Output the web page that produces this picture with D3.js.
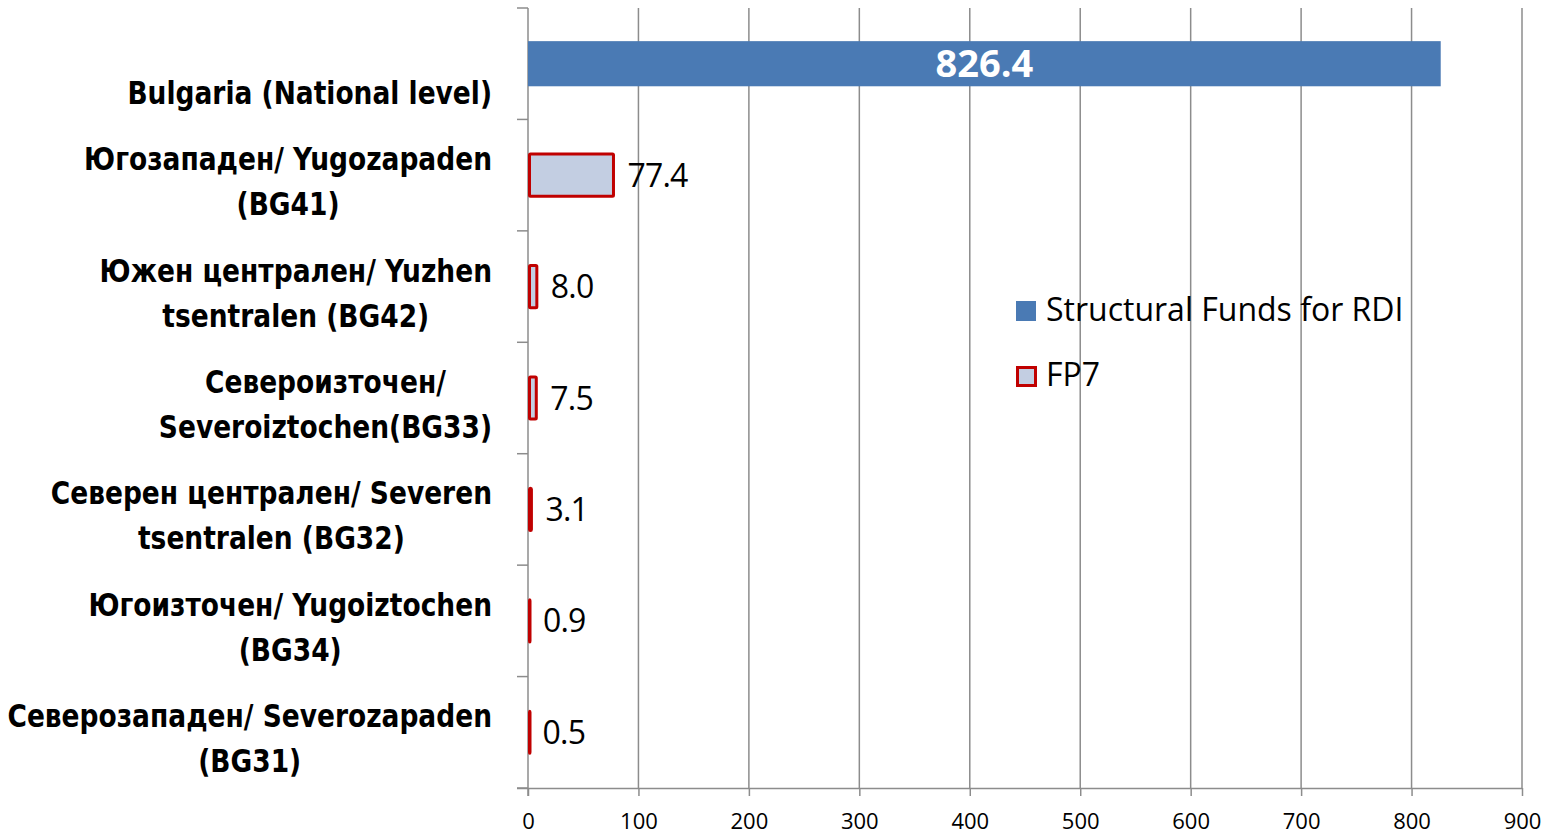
<!DOCTYPE html>
<html><head><meta charset="utf-8">
<script src="https://cdn.jsdelivr.net/npm/d3@7"></script>
<style>html,body{margin:0;padding:0;background:#fff;} svg{display:block;}</style>
</head><body>
<svg id="chart" width="1548" height="835"></svg>
<script>
const categories = ["BG", "BG41", "BG42", "BG33", "BG32", "BG34", "BG31"];
const categoryLines = [
  ["", "Bulgaria (National level)"],
  ["Югозападен/ Yugozapaden", "(BG41)"],
  ["Южен централен/ Yuzhen", "tsentralen (BG42)"],
  ["Североизточен/", "Severoiztochen(BG33)"],
  ["Северен централен/ Severen", "tsentralen (BG32)"],
  ["Югоизточен/ Yugoiztochen", "(BG34)"],
  ["Северозападен/ Severozapaden", "(BG31)"]
];
const structuralFunds = [826.4, null, null, null, null, null, null];
const fp7 = [null, 77.4, 8.0, 7.5, 3.1, 0.9, 0.5];
const xTicks = [0, 100, 200, 300, 400, 500, 600, 700, 800, 900];
const seriesNames = ["Structural Funds for RDI", "FP7"];

(function () {
const svg = d3.select("#chart");
const pLeft = 528, pRight = 1522, pTop = 8, pBottom = 788;
const x = d3.scaleLinear().domain([0, 900]).range([pLeft, pRight]);
const y = d3.scaleBand().domain(categories).range([pTop, pBottom]).padding(0);
const barH = y.bandwidth() * 0.405;
const gridColor = "#8c8c8c";

// gridlines
svg.append("g").selectAll("line").data(xTicks.filter(d => d > 0)).join("line")
  .attr("x1", d => x(d)).attr("x2", d => x(d))
  .attr("y1", pTop).attr("y2", pBottom)
  .attr("stroke", gridColor).attr("stroke-width", 1.5);

// x axis
const xAxis = d3.axisBottom(x).tickValues(xTicks).tickSize(8).tickPadding(0).tickFormat(d3.format("d"));
const gx = svg.append("g").attr("transform", `translate(0,${pBottom})`).call(xAxis);
gx.select(".domain").attr("stroke", gridColor).attr("stroke-width", 1.5).attr("d", `M${pLeft - 11},0.5H${pRight}`);
gx.selectAll(".tick line").attr("stroke", gridColor).attr("stroke-width", 1.5);
gx.selectAll(".tick text").attr("font-family", "'Open Sans', sans-serif").attr("font-size", 22)
  .attr("fill", "#000").attr("y", 41).attr("dy", null);

// y axis with boundary ticks
const boundaries = categories.map(c => y(c)).concat([pBottom]);
svg.append("line").attr("x1", pLeft).attr("x2", pLeft).attr("y1", pTop).attr("y2", pBottom + 8)
  .attr("stroke", gridColor).attr("stroke-width", 1.5);
svg.append("g").selectAll("line").data(boundaries).join("line")
  .attr("x1", pLeft - 11).attr("x2", pLeft).attr("y1", d => d).attr("y2", d => d)
  .attr("stroke", gridColor).attr("stroke-width", 1.5);

// Structural funds bars
const sfData = categories.map((c, i) => ({c, v: structuralFunds[i]})).filter(d => d.v != null);
svg.append("g").selectAll("rect").data(sfData).join("rect")
  .attr("x", x(0)).attr("y", d => y(d.c) + (y.bandwidth() - barH) / 2)
  .attr("width", d => x(d.v) - x(0)).attr("height", barH)
  .attr("fill", "#4a7ab4");
svg.append("g").selectAll("text").data(sfData).join("text")
  .attr("x", d => (x(0) + x(d.v)) / 2).attr("y", d => y(d.c) + y.bandwidth() / 2)
  .attr("dy", "0.36em").attr("text-anchor", "middle")
  .attr("font-family", "'Open Sans', sans-serif").attr("font-weight", "bold").attr("font-size", 38)
  .attr("fill", "#fff").text(d => d.v.toFixed(1));

// FP7 bars
const fpData = categories.map((c, i) => ({c, v: fp7[i]})).filter(d => d.v != null);
svg.append("g").selectAll("rect").data(fpData).join("rect")
  .attr("x", x(0) + 1.5).attr("y", d => y(d.c) + (y.bandwidth() - barH) / 2 + 1.5)
  .attr("width", d => Math.max(x(d.v) - x(0) - 1.5, 0.5)).attr("height", barH - 3)
  .attr("fill", "#c3cee2").attr("stroke", "#c00000").attr("stroke-width", 3).attr("rx", 1);
svg.append("g").selectAll("text").data(fpData).join("text")
  .attr("x", d => x(d.v) + 14).attr("y", d => y(d.c) + y.bandwidth() / 2)
  .attr("dy", "0.36em")
  .attr("font-family", "'Open Sans', sans-serif").attr("font-size", 32).attr("letter-spacing", -0.8)
  .attr("fill", "#000").text(d => d.v.toFixed(1));

// category labels (bold, horizontally condensed)
const labelRight = 492;
const squeeze = 0.92;
categories.forEach((c, i) => {
  const cy = y(c) + y.bandwidth() / 2;
  const g = svg.append("g").attr("transform", `translate(${labelRight},0) scale(${squeeze},1)`);
  const lines = categoryLines[i];
  const texts = lines.map((ln, j) => g.append("text")
    .attr("y", cy + (j === 0 ? -5 : 40))
    .attr("font-family", "'DejaVu Sans Condensed', 'DejaVu Sans', sans-serif")
    .attr("font-stretch", "condensed")
    .attr("font-weight", "bold").attr("font-size", 32).attr("fill", "#000")
    .attr("text-anchor", "middle").text(ln));
  const maxW = d3.max(texts, t => t.node().getComputedTextLength());
  texts.forEach(t => t.attr("x", -maxW / 2));
});

// legend
const legend = svg.append("g");
legend.append("rect").attr("x", 1016).attr("y", 301).attr("width", 20).attr("height", 20).attr("fill", "#4a7ab4");
legend.append("rect").attr("x", 1017.5).attr("y", 367.5).attr("width", 18).attr("height", 18)
  .attr("fill", "#c3cee2").attr("stroke", "#c00000").attr("stroke-width", 3);
legend.append("text").attr("x", 1046).attr("y", 321)
  .attr("font-family", "'Open Sans', sans-serif").attr("font-size", 32).attr("fill", "#000")
  .text(seriesNames[0]);
legend.append("text").attr("x", 1046).attr("y", 386)
  .attr("font-family", "'Open Sans', sans-serif").attr("font-size", 32).attr("fill", "#000")
  .text(seriesNames[1]);
})();
</script>
</body></html>
